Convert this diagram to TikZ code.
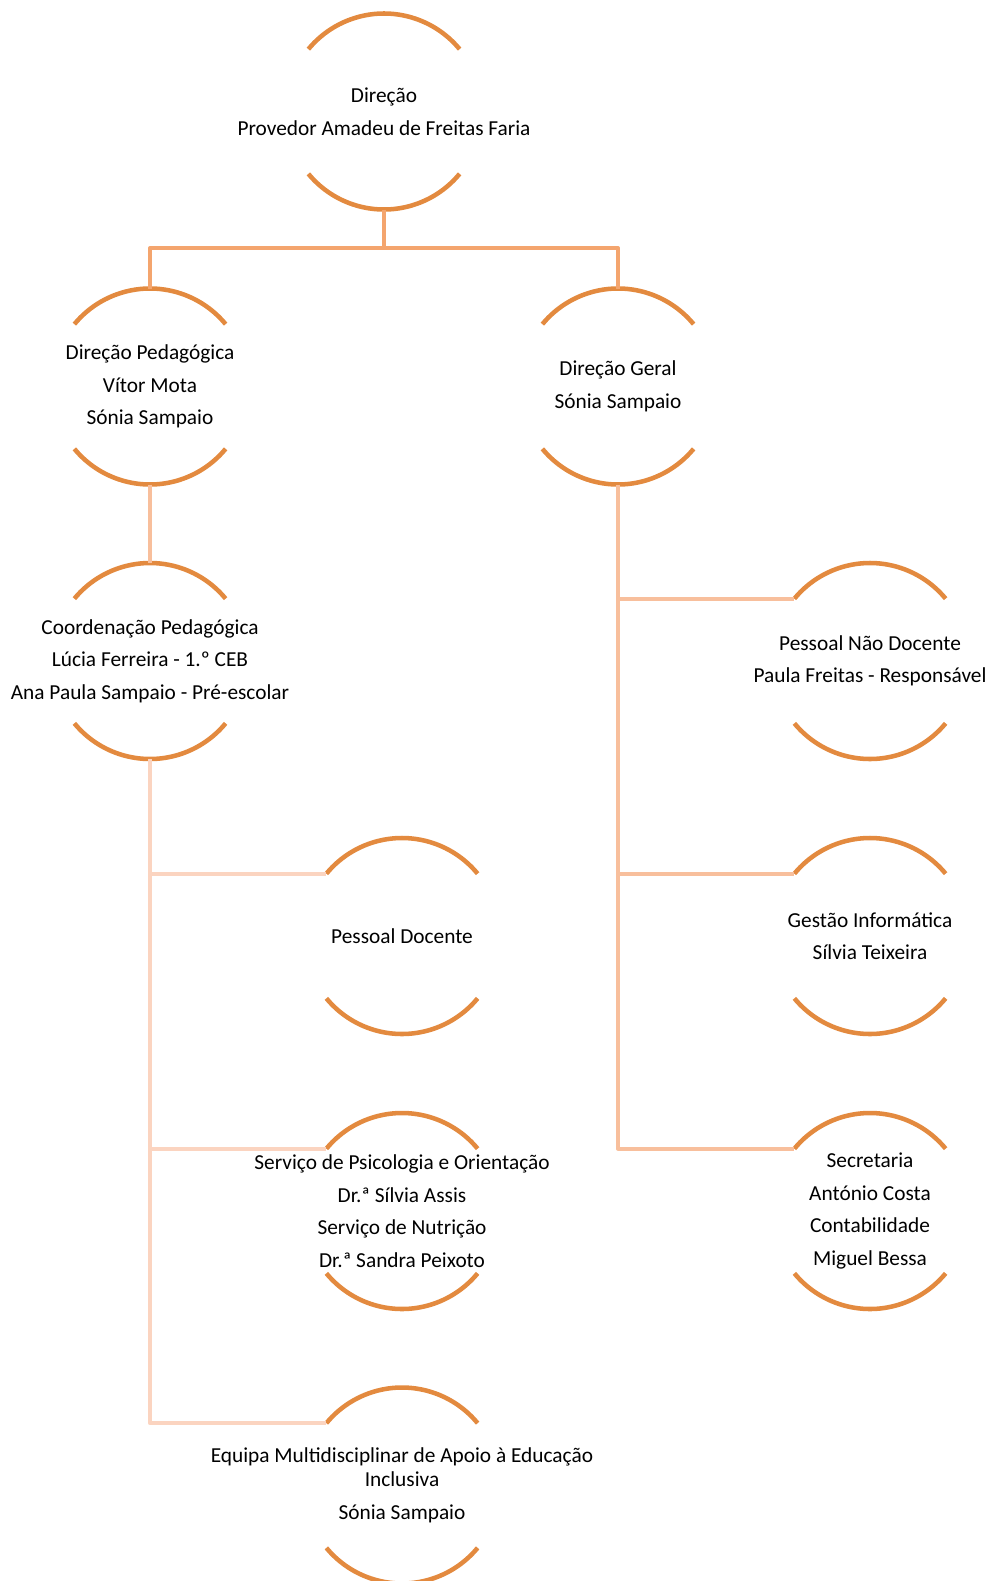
\documentclass[tikz,border=0pt]{standalone}
\usepackage{fontspec}
\setmainfont{Carlito}
\definecolor{laranja}{RGB}{227,138,63}
\definecolor{ligacaoA}{RGB}{244,165,110}
\definecolor{ligacaoB}{RGB}{248,191,156}
\definecolor{ligacaoC}{RGB}{251,212,192}

\begin{document}
\begin{tikzpicture}[
    x=0.75pt, y=0.75pt,   % 1 unidade = 1 pixel
    arco/.style={draw=laranja, line width=3.4pt},
    lig1/.style={draw=ligacaoA, line width=3pt, line join=round},
    lig2/.style={draw=ligacaoB, line width=3pt, line join=round},
    lig3/.style={draw=ligacaoC, line width=3pt, line join=round},
    texto/.style={align=center, inner sep=0pt, font=\fontsize{16}{18}\selectfont}
]
    \useasboundingbox (0,0) rectangle (992,-1581);

    % =========================================================================
    % 1. CAIXAS DE TEXTO
    % =========================================================================
    \node[texto] (direcao)  at (384,-111.5) {Direção\\[6.4pt]Provedor Amadeu de Freitas Faria};

    \node[texto] (dirpedag) at (150,-386.5) {Direção Pedagógica\\[6.4pt]Vítor Mota\\[6.4pt]Sónia Sampaio};
    \node[texto] (dirgeral) at (618,-386.5) {Direção Geral\\[6.4pt]Sónia Sampaio};

    \node[texto] (coordped) at (150,-661) {Coordenação Pedagógica\\[6.4pt]Lúcia Ferreira - 1.º CEB\\[6.4pt]Ana Paula Sampaio - Pré-escolar};
    \node[texto] (naodoc)   at (870,-661) {Pessoal Não Docente\\[6.4pt]Paula Freitas - Responsável};

    \node[texto] (docente)  at (402,-936) {Pessoal Docente};
    \node[texto] (informat) at (870,-936) {Gestão Informática\\[6.4pt]Sílvia Teixeira};

    \node[texto] (psicol)   at (402,-1211) {Serviço de Psicologia e Orientação\\[6.4pt]Dr.ª Sílvia Assis\\[6.4pt]Serviço de Nutrição\\[6.4pt]Dr.ª Sandra Peixoto};
    \node[texto] (secret)   at (870,-1211) {Secretaria\\[6.4pt]António Costa\\[6.4pt]Contabilidade\\[6.4pt]Miguel Bessa};

    \node[texto] (equipa)   at (402,-1485.5) {Equipa Multidisciplinar de Apoio à Educação\\Inclusiva\\[6.4pt]Sónia Sampaio};

    % =========================================================================
    % 2. ARCOS (topo e base de cada caixa) e pontos de ligação
    % =========================================================================
    \foreach \n in {direcao,dirpedag,dirgeral,coordped,naodoc,docente,informat,psicol,secret,equipa} {
        \draw[arco] (\n.center) ++(39.5:98) arc[start angle=39.5, end angle=140.5, radius=98];
        \draw[arco] (\n.center) ++(219.5:98) arc[start angle=219.5, end angle=320.5, radius=98];
        \path (\n.center) ++(0,98) coordinate (\n-topo);
        \path (\n.center) ++(0,-98) coordinate (\n-base);
        \path (\n.center) ++(140.5:98) coordinate (\n-esq);
    }

    % =========================================================================
    % 3. LIGAÇÕES
    % =========================================================================
    % Direção -> primeiro nível
    \coordinate (juncao) at (384,-248);
    \draw[lig1] (direcao-base) -- (juncao);
    \draw[lig1] (dirpedag-topo) |- (juncao) -| (dirgeral-topo);

    % Direção Pedagógica -> Coordenação
    \draw[lig2] (dirpedag-base) -- (coordped-topo);

    % Direção Geral -> serviços
    \draw[lig2] (dirgeral-base) |- (secret-esq);
    \foreach \n in {naodoc,informat} {
        \draw[lig2] (dirgeral-base |- \n-esq) -- (\n-esq);
    }

    % Coordenação -> equipas
    \draw[lig3] (coordped-base) |- (equipa-esq);
    \foreach \n in {docente,psicol} {
        \draw[lig3] (coordped-base |- \n-esq) -- (\n-esq);
    }

\end{tikzpicture}
\end{document}
